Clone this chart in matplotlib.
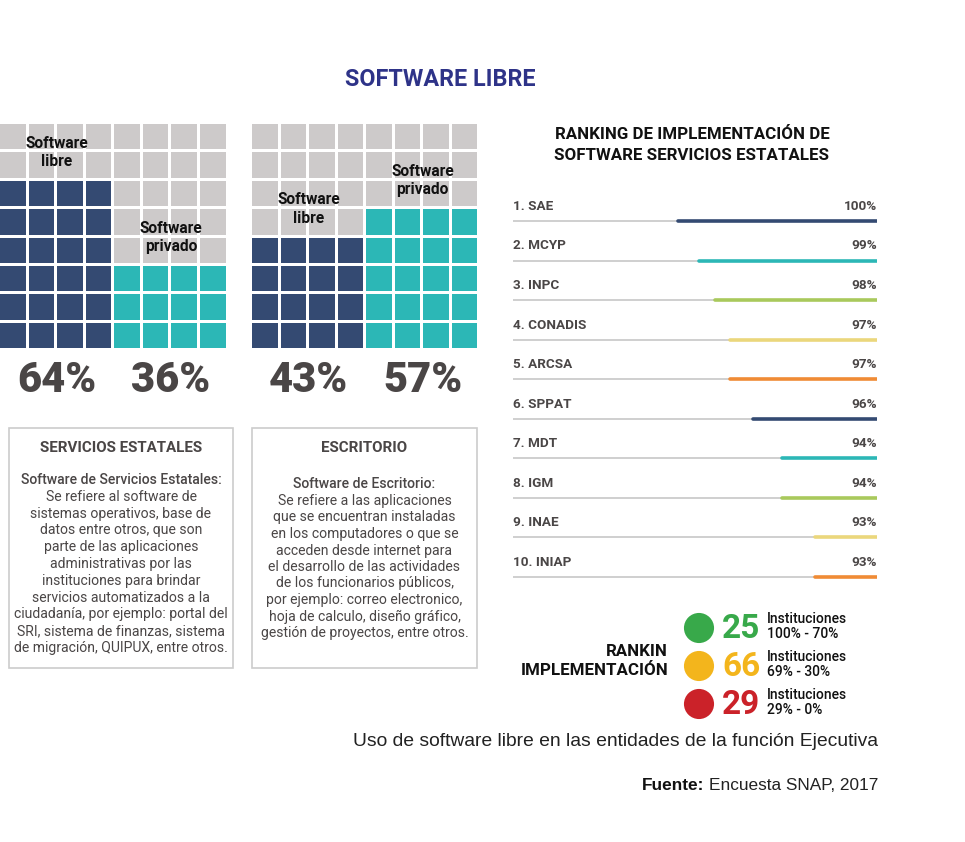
import matplotlib
matplotlib.use("Agg")
import matplotlib.pyplot as plt
from matplotlib.patches import Rectangle

plt.rcParams['font.family'] = ['Roboto', 'DejaVu Sans']

W, H = 965, 842

# waffles: rows filled (out of 8) in each half of the grid
waffle_rows_libre = [6, 4]
waffle_rows_privado = [3, 5]
pct_libre = ["64%", "43%"]
pct_privado = ["36%", "57%"]

# ranking
rank_names = ["SAE", "MCYP", "INPC", "CONADIS", "ARCSA",
              "SPPAT", "MDT", "IGM", "INAE", "INIAP"]
rank_pct = [100, 99, 98, 97, 97, 96, 94, 94, 93, 93]
rank_bar = [0.547, 0.489, 0.445, 0.404, 0.404, 0.341, 0.261, 0.261, 0.170, 0.170]
rank_colors = ["#344a72", "#2cb7b6", "#a9c95c", "#ebd77c", "#f08b35"] * 2

# legend
leg_counts = [25, 66, 29]
leg_ranges = ["100% - 70%", "69% - 30%", "29% - 0%"]
leg_colors = ["#38a94a", "#f3b51c", "#cb2229"]

box1_title = "SERVICIOS ESTATALES"
box1_lines = ["Software de Servicios Estatales:",
              "Se refiere al software de",
              "sistemas operativos, base de",
              "datos entre otros, que son",
              "parte de las aplicaciones",
              "administrativas por las",
              "instituciones para brindar",
              "servicios automatizados a la",
              "ciudadanía, por ejemplo: portal del",
              "SRI, sistema de finanzas, sistema",
              "de migración, QUIPUX, entre otros."]
box2_title = "ESCRITORIO"
box2_lines = ["Software de Escritorio:",
              "Se refiere a las aplicaciones",
              "que se encuentran instaladas",
              "en los computadores o que se",
              "acceden desde internet para",
              "el desarrollo de las actividades",
              "de los funcionarios públicos,",
              "por ejemplo: correo electronico,",
              "hoja de calculo, diseño gráfico,",
              "gestión de proyectos, entre otros."]

GRAY = "#cdcaca"
NAVY = "#344a72"
TEAL = "#2cb7b6"
DARK = "#4a4646"
HELV = ["Liberation Sans", "DejaVu Sans"]

fig = plt.figure(figsize=(W / 100, H / 100), dpi=100)
fig.patch.set_facecolor("white")


def px_axes(x0, y0, x1, y1):
    ax = fig.add_axes([x0 / W, 1 - y1 / H, (x1 - x0) / W, (y1 - y0) / H])
    ax.set_axis_off()
    ax.patch.set_alpha(0)
    return ax


# ---- waffles
waffle_boxes = [(0, 124, 228.6, 351), (252, 124, 480.4, 351)]
for k, (x0, y0, x1, y1) in enumerate(waffle_boxes):
    ax = px_axes(x0, y0, x1, y1)
    ax.set_xlim(0, 8)
    ax.set_ylim(8, 0)
    for c in range(8):
        n = waffle_rows_libre[k] if c < 4 else waffle_rows_privado[k]
        fill = NAVY if c < 4 else TEAL
        for r in range(8):
            col = fill if r >= 8 - n else GRAY
            ax.add_patch(Rectangle((c, r), 0.895, 0.895, facecolor=col, lw=0))
    for half, n, lab, pct in [(0, waffle_rows_libre[k], "Software\nlibre", pct_libre[k]),
                              (1, waffle_rows_privado[k], "Software\nprivado", pct_privado[k])]:
        cx = 2 + 4 * half - 0.02
        ax.text(cx, 8 - n - 1, lab, ha="center", va="center", fontsize=11.2,
                fontweight="bold", color="#111111", linespacing=1.28)
        ax.text(cx, 9.05, pct, ha="center", va="center", fontsize=30,
                fontweight="black", color=DARK, clip_on=False)

# ---- ranking
rax = px_axes(513, 201.2, 877, 596.8)
rax.set_xlim(0, 1)
rax.set_ylim(9.5, -0.5)
for i, (name, p, b) in enumerate(zip(rank_names, rank_pct, rank_bar)):
    rax.plot([0, 1], [i, i], color="#cfcfcf", lw=1.4, solid_capstyle="butt")
    rax.plot([1 - b, 1], [i, i], color=rank_colors[i], lw=2.6, solid_capstyle="round")
    rax.text(0, i - 0.37, f"{i + 1}. {name}", ha="left", va="center",
             fontsize=9.7, fontweight="bold", color=DARK)
    rax.text(1, i - 0.37, f"{p}%", ha="right", va="center",
             fontsize=9.7, fontweight="bold", color=DARK)

# ---- overlay for text / boxes / legend
ov = px_axes(0, 0, W, H)
ov.set_xlim(0, W)
ov.set_ylim(H, 0)

ov.text(440, 79, "SOFTWARE LIBRE", ha="center", va="center", fontsize=16.8,
        fontweight="bold", color="#2e3388")
ov.text(692, 145, "RANKING DE IMPLEMENTACIÓN DE\nSOFTWARE SERVICIOS ESTATALES",
        ha="center", va="center", fontsize=12.2, fontweight="bold",
        color="#111111", linespacing=1.42)

for (bx0, bx1, title, lines, ystart, step) in [
        (9, 233, box1_title, box1_lines, 480, 16.8),
        (252, 477, box2_title, box2_lines, 484.5, 16.5)]:
    ov.add_patch(Rectangle((bx0, 428), bx1 - bx0, 240, facecolor="none",
                           edgecolor="#cccccc", lw=1.2))
    cx = (bx0 + bx1) / 2
    ov.text(cx, 448.5, title, ha="center", va="center", fontsize=10.9,
            fontweight="bold", color=DARK)
    for j, ln in enumerate(lines):
        ov.text(cx, ystart + j * step, ln, ha="center", va="center",
                fontsize=10.1, color=DARK,
                fontweight="medium" if j == 0 else "normal")

# legend
ov.text(668, 661, "RANKIN\nIMPLEMENTACIÓN", ha="right", va="center",
        fontsize=12.2, fontweight="bold", color="#111111", linespacing=1.4)
leg_y = [628, 666, 704]
ov.scatter([699] * 3, leg_y, s=470, c=leg_colors, linewidths=0)
for y, n, rg, col in zip(leg_y, leg_counts, leg_ranges, leg_colors):
    ov.text(722, y + 1, str(n), ha="left", va="center", fontsize=24,
            fontweight="bold", color=col)
    ov.text(767, y - 9, "Instituciones", ha="left", va="center", fontsize=10,
            fontweight="medium", color="#111111")
    ov.text(767, y + 6, rg, ha="left", va="center", fontsize=10,
            fontweight="medium", color="#111111")

ov.text(878, 742, "Uso de software libre en las entidades de la función Ejecutiva",
        ha="right", va="center", fontsize=13.85, color="#222222", family=HELV)
src = ov.text(878, 786, "Encuesta SNAP, 2017", ha="right", va="center",
              fontsize=12.4, color="#222222", family=HELV)
fig.canvas.draw()
bb = src.get_window_extent()
x_left = ov.transData.inverted().transform((bb.x0, bb.y0))[0]
ov.text(x_left - 4, 786, "Fuente:", ha="right", va="center", fontsize=12.4,
        fontweight="bold", color="#111111", family=HELV)

fig.savefig("out.png", dpi=100, facecolor="white")
